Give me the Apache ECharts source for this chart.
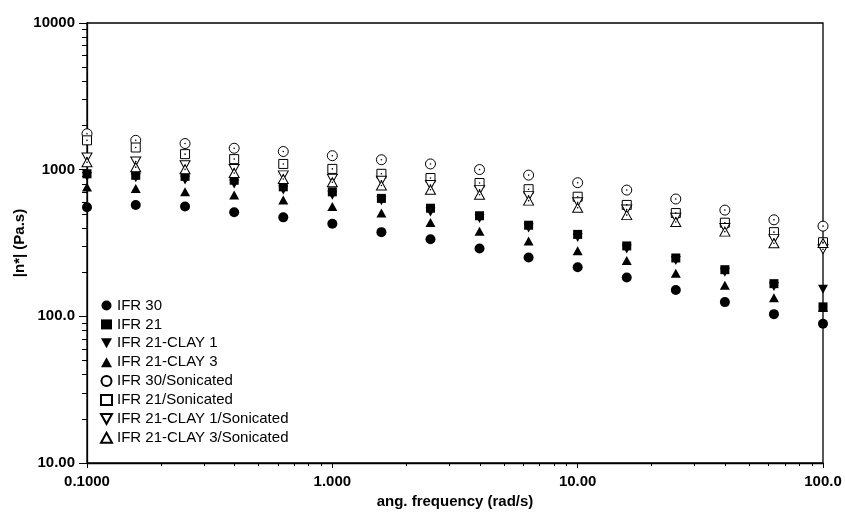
<!DOCTYPE html>
<html>
<head>
<meta charset="utf-8">
<script src="https://cdn.jsdelivr.net/npm/echarts@6/dist/echarts.min.js"></script>
<style>
  html, body { margin: 0; padding: 0; background: #fff; }
  #chart { width: 845px; height: 514px; }
</style>
</head>
<body>
<div id="chart"></div>
<script>
// angular frequency (rad/s), 5 points per decade
const freq = [0.1, 0.158, 0.251, 0.398, 0.631, 1, 1.585, 2.512, 3.981, 6.31, 10, 15.85, 25.12, 39.81, 63.1, 100];

// |n*| (Pa.s)
const ifr30      = [554, 575, 561, 513, 473, 428, 375, 335, 290, 252, 216, 184, 151, 125, 103.5, 89];
const ifr21      = [937, 915, 900, 847, 764, 706, 637, 546, 485, 418, 362, 302, 250, 208, 167, 116];
const ifr21c1    = [900, 880, 850, 800, 728, 670, 615, 515, 465, 400, 345, 288, 240, 200, 160, 153];
const ifr21c3    = [763, 743, 706, 671, 621, 561, 506, 437, 381, 326, 280, 240, 197, 163, 134, 115];
const ifr30s     = [1758, 1585, 1507, 1400, 1330, 1245, 1169, 1094, 1002, 918, 815, 726, 631, 530, 455, 412];
const ifr21s     = [1585, 1416, 1276, 1180, 1094, 1012, 937, 877, 811, 736, 654, 575, 506, 435, 375, 320];
const ifr21c1s   = [1211, 1137, 1072, 1010, 914, 867, 840, 786, 728, 660, 600, 535, 470, 400, 336, 287];
const ifr21c3s   = [1122, 1040, 1005, 950, 863, 820, 780, 730, 675, 615, 550, 490, 440, 378, 315, 316];

const xTickText = {0.1: '0.1000', 1: '1.000', 10: '10.00', 100: '100.0'};
const yTickText = {10: '10.00', 100: '100.0', 1000: '1000', 10000: '10000'};

const myChart = echarts.init(document.getElementById('chart'));

const FONT = '"Liberation Sans", Arial, sans-serif';
const downTri = 'path://M0,0L10,0L5,9Z';

// minor ticks 2..9 in each decade
function minorTicks(decades) {
  const out = [];
  decades.forEach(d => {
    for (let k = 2; k <= 9; k++) out.push(+(d * k).toPrecision(3));
  });
  return out;
}

function pairs(ys) {
  return freq.map((x, i) => [x, ys[i]]);
}

const filled = { color: '#000', opacity: 1 };
const open = { color: '#fff', borderColor: '#000', borderWidth: 1, opacity: 1 };

const seriesDefs = [
  { name: 'IFR 30', data: ifr30, symbol: 'circle', size: 10, style: filled },
  { name: 'IFR 21', data: ifr21, symbol: 'rect', size: 9, style: filled },
  { name: 'IFR 21-CLAY 1', data: ifr21c1, symbol: downTri, size: [10, 9], style: filled },
  { name: 'IFR 21-CLAY 3', data: ifr21c3, symbol: 'triangle', size: [10, 9], style: filled },
  { name: 'IFR 30/Sonicated', data: ifr30s, symbol: 'circle', size: 10, style: open },
  { name: 'IFR 21/Sonicated', data: ifr21s, symbol: 'rect', size: 9, style: open },
  { name: 'IFR 21-CLAY 1/Sonicated', data: ifr21c1s, symbol: downTri, size: [10, 9], style: open },
  { name: 'IFR 21-CLAY 3/Sonicated', data: ifr21c3s, symbol: 'triangle', size: [10, 9], style: open }
];

const series = seriesDefs.map(s => ({
  name: s.name,
  type: 'scatter',
  data: pairs(s.data),
  symbol: s.symbol,
  symbolSize: s.size,
  itemStyle: s.style,
  emphasis: { disabled: true }
}));

// little centre dots inside the open markers
seriesDefs.slice(4).forEach(s => {
  series.push({
    name: s.name + ' dot',
    type: 'scatter',
    data: pairs(s.data),
    symbol: 'circle',
    symbolSize: 1.6,
    itemStyle: { color: '#000', opacity: 1 },
    z: 3,
    emphasis: { disabled: true }
  });
});

const axisLine = { lineStyle: { color: '#000', width: 1.3 } };

let option = {
  animation: false,
  backgroundColor: '#fff',
  grid: {
    left: 87, right: 22, top: 23, bottom: 43,
    show: true, borderColor: '#000', borderWidth: 1.3
  },
  legend: {
    data: seriesDefs.map(s => s.name),
    orient: 'vertical',
    left: 95,
    top: 293,
    itemWidth: 11,
    itemHeight: 10,
    itemGap: 3.9,
    textStyle: { fontFamily: FONT, fontSize: 15, color: '#000' }
  },
  xAxis: [
    {
      type: 'log', logBase: 10, min: 0.1, max: 100,
      name: 'ang. frequency (rad/s)',
      nameLocation: 'middle', nameGap: 31, nameMoveOverlap: false,
      nameTextStyle: { fontFamily: FONT, fontSize: 15, fontWeight: 'bold', color: '#000' },
      axisLine: axisLine,
      axisTick: { inside: false, length: 5, lineStyle: { color: '#000', width: 1 } },
      axisLabel: {
        margin: 11, fontFamily: FONT, fontSize: 15, fontWeight: 'bold', color: '#000',
        formatter: v => xTickText[+v.toPrecision(3)] || ''
      },
      splitLine: { show: false }
    },
    {
      type: 'log', logBase: 10, min: 0.1, max: 100, position: 'bottom',
      axisLine: { show: false },
      axisTick: { length: 3, customValues: minorTicks([0.1, 1, 10]), lineStyle: { color: '#000', width: 1 } },
      axisLabel: { show: false },
      splitLine: { show: false }
    }
  ],
  yAxis: [
    {
      type: 'log', logBase: 10, min: 10, max: 10000,
      name: '|n*| (Pa.s)',
      nameLocation: 'middle', nameGap: 60, nameMoveOverlap: false,
      nameTextStyle: { fontFamily: FONT, fontSize: 15, fontWeight: 'bold', color: '#000' },
      axisLine: axisLine,
      axisTick: { inside: false, length: 8, lineStyle: { color: '#000', width: 1 } },
      axisLabel: {
        margin: 12, fontFamily: FONT, fontSize: 15, fontWeight: 'bold', color: '#000',
        formatter: v => yTickText[Math.round(v)] || ''
      },
      splitLine: { show: false }
    },
    {
      type: 'log', logBase: 10, min: 10, max: 10000, position: 'left',
      axisLine: { show: false },
      axisTick: { length: 5, customValues: minorTicks([10, 100, 1000]), lineStyle: { color: '#000', width: 1 } },
      axisLabel: { show: false },
      splitLine: { show: false }
    }
  ],
  series: series
};

myChart.setOption(option);
</script>
</body>
</html>
